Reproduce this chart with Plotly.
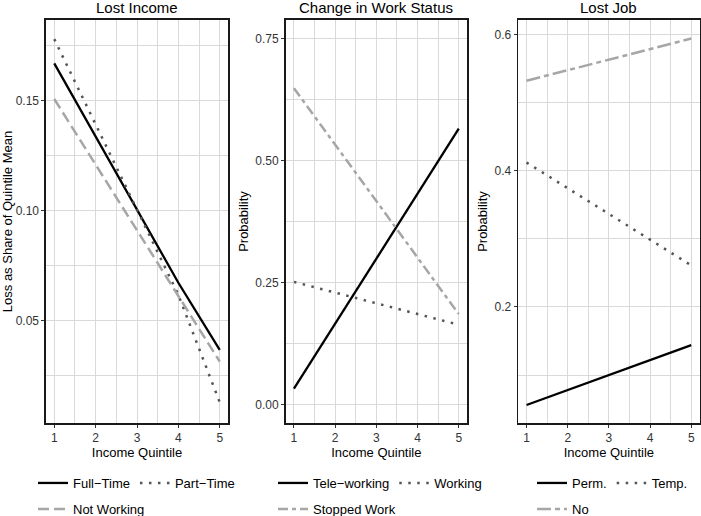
import plotly.graph_objects as go

quintiles = [1, 2, 3, 4, 5]

# Panel 1: Lost Income (linear fits, values at quintile 1..5)
full_time = [0.167, 0.13375, 0.1005, 0.06725, 0.0367]
part_time = [0.178, 0.13925, 0.1005, 0.06175, 0.0129]
not_working = [0.1508, 0.12095, 0.0911, 0.06125, 0.0314]

# Panel 2: Change in Work Status
tele_working = [0.0327, 0.1658, 0.2989, 0.4319, 0.565]
working = [0.2514, 0.2295, 0.2076, 0.1856, 0.1637]
stopped_work = [0.648, 0.5324, 0.4168, 0.3011, 0.1855]

# Panel 3: Lost Job
perm = [0.056, 0.078, 0.100, 0.122, 0.144]
temp = [0.412, 0.37425, 0.3365, 0.29875, 0.261]
no_job = [0.532, 0.5475, 0.563, 0.5785, 0.594]

panel_titles = ["Lost Income", "Change in Work Status", "Lost Job"]
y_titles = ["Loss as Share of Quintile Mean", "Probability", "Probability"]
x_title = "Income Quintile"

MINUS = "\u2212"
FONT = "Liberation Sans, Arial, sans-serif"
BLACK = "#000000"
DARK = "#555555"
LIGHT = "#a6a6a6"
GRID = "#d9d9d9"

fig = go.Figure()

def add(y, name, color, dash, xa, ya, legend, width=2.3):
    fig.add_trace(go.Scatter(
        x=quintiles, y=y, mode="lines", name=name,
        line=dict(color=color, dash=dash, width=width),
        xaxis=xa, yaxis=ya, legend=legend, hoverinfo="skip"))

add(full_time, "Full" + MINUS + "Time", BLACK, "solid", "x", "y", "legend")
add(part_time, "Part" + MINUS + "Time", DARK, "2.5px,6.5px", "x", "y", "legend", 2.5)
add(not_working, "Not Working", LIGHT, "11px,5px", "x", "y", "legend2", 2.5)

add(tele_working, "Tele" + MINUS + "working", BLACK, "solid", "x2", "y2", "legend3")
add(working, "Working", DARK, "2.5px,6.5px", "x2", "y2", "legend3", 2.5)
add(stopped_work, "Stopped Work", LIGHT, "10px,4px,4px,4px", "x2", "y2", "legend4", 2.5)

add(perm, "Perm.", BLACK, "solid", "x3", "y3", "legend5")
add(temp, "Temp.", DARK, "2.5px,6.5px", "x3", "y3", "legend5", 2.5)
add(no_job, "No", LIGHT, "14px,4px,5px,4px", "x3", "y3", "legend6", 2.5)

W, H = 701, 516
ML, MR, MT, MB = 0, 0, 20, 93
pw = W - ML - MR
ph = H - MT - MB

def px_x(p):
    return (p - ML) / pw

def px_y(p):
    return (H - MB - p) / ph

domains = [(46, 228), (285.7, 467), (518.3, 699.5)]
yranges = [[0.0035, 0.1867], [-0.0375, 0.7875], [0.0296, 0.6212]]
ytickvals = [[0.05, 0.10, 0.15], [0.0, 0.25, 0.50, 0.75], [0.2, 0.4, 0.6]]
yticktext = [["0.05", "0.10", "0.15"], ["0.00", "0.25", "0.50", "0.75"], ["0.2", "0.4", "0.6"]]
yminor = [0.025, 0.125, 0.1]

axis_common = dict(
    showline=True, mirror=True, linecolor="#1a1a1a", linewidth=1.6,
    showgrid=True, gridcolor=GRID, gridwidth=1,
    ticks="outside", ticklen=3, tickwidth=1, tickcolor="#333333",
    tickfont=dict(family=FONT, size=12, color="#333333"),
    zeroline=False, ticklabeloverflow="allow",
)

layout = dict(
    width=W, height=H,
    margin=dict(l=ML, r=MR, t=MT, b=MB, autoexpand=False),
    paper_bgcolor="white", plot_bgcolor="white",
    font=dict(family=FONT, color="#000000"),
    showlegend=True,
)

annotations = []
for i in range(3):
    sx = "" if i == 0 else str(i + 1)
    d0, d1 = domains[i]
    layout["xaxis" + sx] = dict(
        axis_common, domain=[px_x(d0), px_x(d1)], range=[0.8, 5.2],
        tickvals=quintiles, anchor="y" + sx,
        minor=dict(dtick=0.5, tick0=0, showgrid=True, gridcolor=GRID, gridwidth=1, ticks=""),
        title=dict(text=x_title, font=dict(family=FONT, size=13, color="#000"), standoff=0),
    )
    layout["yaxis" + sx] = dict(
        axis_common, domain=[0, 1], range=yranges[i], anchor="x" + sx,
        tickvals=ytickvals[i], ticktext=yticktext[i],
        minor=dict(dtick=yminor[i], tick0=0, showgrid=True, gridcolor=GRID, gridwidth=1, ticks=""),
        title=dict(text=y_titles[i], font=dict(family=FONT, size=13, color="#000"), standoff=4),
    )
    annotations.append(dict(
        text=panel_titles[i], x=px_x((d0 + d1) / 2), y=px_y(7),
        xref="paper", yref="paper", xanchor="center", yanchor="middle",
        showarrow=False, font=dict(family=FONT, size=15, color="#000")))

legend_common = dict(
    orientation="h", bgcolor="rgba(0,0,0,0)", borderwidth=0,
    font=dict(family=FONT, size=13, color="#000"),
    xanchor="left", yanchor="middle", itemwidth=30, tracegroupgap=0,
    itemclick=False, itemdoubleclick=False,
)
leg_x = [33, 33, 273, 273, 532, 532]
leg_y = [483, 509, 483, 509, 483, 509]
for k in range(6):
    key = "legend" if k == 0 else "legend" + str(k + 1)
    layout[key] = dict(legend_common, x=px_x(leg_x[k]), y=px_y(leg_y[k]))

layout["annotations"] = annotations
fig.update_layout(**layout)

fig.write_html("out.html",
               config={"displayModeBar": False, "staticPlot": True},
               post_script="document.body.style.margin='0';document.body.style.overflow='hidden';")
